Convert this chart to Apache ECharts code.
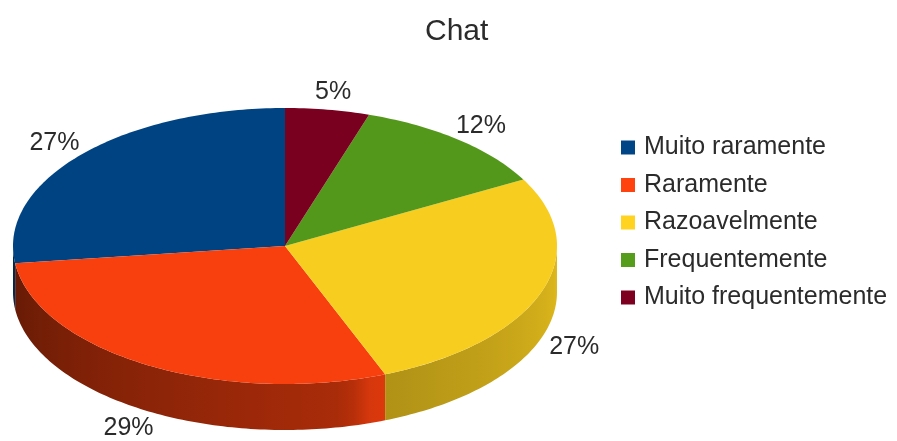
<!DOCTYPE html>
<html>
<head>
<meta charset="utf-8">
<title>Chat</title>
<script src="https://cdn.jsdelivr.net/npm/echarts@6/dist/echarts.min.js"></script>
<style>
  html, body { margin: 0; padding: 0; background: #ffffff; }
  #chart { width: 897px; height: 441px; }
</style>
</head>
<body>
<div id="chart"></div>
<script>
// ---- data ----
const categories = ['Muito raramente', 'Raramente', 'Razoavelmente', 'Frequentemente', 'Muito frequentemente'];
const shares = [27, 29, 27, 12, 5];
const sliceColors = ['#004586', '#ff420e', '#ffd320', '#579d1c', '#7e0021'];

// ---- layout of the tilted pie (pixels) ----
const PIE = { cx: 285, cy: 246, rx: 272, ry: 138, depth: 46, labelK: 1.13 };
const FONT = '"Liberation Sans", Arial, sans-serif';
const TEXT_COLOR = '#2b2b2b';

let selected = {};
categories.forEach(function (c) { selected[c] = true; });

function shade(hex, f) {
  const n = parseInt(hex.slice(1), 16);
  const ch = [(n >> 16) & 255, (n >> 8) & 255, n & 255].map(function (v) {
    return Math.max(0, Math.min(255, Math.round(v * f)));
  });
  return 'rgb(' + ch.join(',') + ')';
}

function pt(deg, dy, k) {
  const r = deg * Math.PI / 180;
  k = k || 1;
  return [PIE.cx + k * PIE.rx * Math.cos(r), PIE.cy - k * PIE.ry * Math.sin(r) + (dy || 0)];
}

function arc(a, b, dy) {
  const pts = [];
  const n = Math.max(2, Math.ceil(Math.abs(b - a)));
  for (let i = 0; i <= n; i++) pts.push(pt(a + (b - a) * i / n, dy));
  return pts;
}

// light falling on the rim: dark on the left, brighter towards the front-right,
// with a narrow glint just before a visible slice edge
function rimLight(deg, end) {
  let f = 0.38 + 0.5 * (deg - 180) / 180;
  if (end < 359.5) {
    const bump = Math.max(0, 1 - Math.abs(deg - (end - 1.5)) / 7);
    f += 0.22 * bump;
  }
  return f;
}

function seriesData() {
  return shares.map(function (v, i) {
    return { name: categories[i], value: selected[categories[i]] ? v : 0 };
  });
}

function renderSlice(params, api) {
  const data = seriesData();
  const total = data.reduce(function (s, d) { return s + d.value; }, 0) || 1;
  const i = params.dataIndex;
  let before = 0;
  for (let j = 0; j < i; j++) before += data[j].value;
  const value = api.value(0);
  if (!value) return { type: 'group', children: [] };

  const start = 90 + 360 * before / total;
  const end = 90 + 360 * (before + value) / total;
  const color = sliceColors[i];
  const children = [];

  // visible outer wall (front half of the cylinder)
  const a = Math.max(start, 180), b = Math.min(end, 360);
  if (b > a) {
    const top = arc(a, b, 0);
    const bottom = arc(b, a, PIE.depth);
    const x0 = pt(a)[0], x1 = pt(b)[0];
    const stops = [];
    const n = 30;
    for (let s = 0; s <= n; s++) {
      const d = a + (b - a) * s / n;
      const off = x1 - x0 > 0.5 ? (pt(d)[0] - x0) / (x1 - x0) : s / n;
      stops.push({ offset: Math.max(0, Math.min(1, off)), color: shade(color, rimLight(d, b)) });
    }
    children.push({
      type: 'polygon',
      shape: { points: top.concat(bottom) },
      style: { fill: new echarts.graphic.LinearGradient(x0, 0, Math.max(x1, x0 + 1), 0, stops, true) }
    });
  }

  // top face
  children.push({
    type: 'polygon',
    shape: { points: [[PIE.cx, PIE.cy]].concat(arc(start, end, 0)) },
    style: { fill: shade(color, 0.97) }
  });

  // percentage label
  const mid = (start + end) / 2;
  const sinM = Math.sin(mid * Math.PI / 180);
  const lp = pt(mid, sinM < 0 ? PIE.depth + 2 : 0, PIE.labelK);
  children.push({
    type: 'text',
    x: lp[0], y: lp[1],
    style: {
      text: Math.round(value / total * 100) + '%',
      fill: TEXT_COLOR,
      fontSize: 25,
      fontFamily: FONT,
      align: 'center',
      verticalAlign: 'middle'
    }
  });

  return { type: 'group', children: children };
}

const chart = echarts.init(document.getElementById('chart'), null, { renderer: 'canvas' });

chart.setOption({
  animation: false,
  backgroundColor: '#ffffff',
  title: {
    text: 'Chat',
    left: 420,
    top: 12,
    textStyle: { fontFamily: FONT, fontSize: 30, fontWeight: 'normal', color: TEXT_COLOR }
  },
  legend: {
    orient: 'vertical',
    left: 616,
    top: 130,
    itemWidth: 14,
    itemHeight: 14,
    itemGap: 12.5,
    icon: 'rect',
    data: categories,
    textStyle: { fontFamily: FONT, fontSize: 25, color: TEXT_COLOR, padding: [0, 0, 0, 4] }
  },
  series: [
    {
      id: 'pie3d',
      type: 'custom',
      coordinateSystem: 'none',
      renderItem: renderSlice,
      data: seriesData(),
      silent: true
    },
    {
      // zero-radius pie that only feeds the legend with names and colours
      id: 'legendSource',
      type: 'pie',
      radius: [0, 0],
      center: [PIE.cx, PIE.cy],
      silent: true,
      label: { show: false },
      labelLine: { show: false },
      emphasis: { disabled: true },
      data: categories.map(function (c, i) {
        return { name: c, value: shares[i], itemStyle: { color: sliceColors[i] } };
      })
    }
  ]
});

chart.on('legendselectchanged', function (e) {
  selected = e.selected;
  chart.setOption({ series: [{ id: 'pie3d', data: seriesData() }] });
});
</script>
</body>
</html>
